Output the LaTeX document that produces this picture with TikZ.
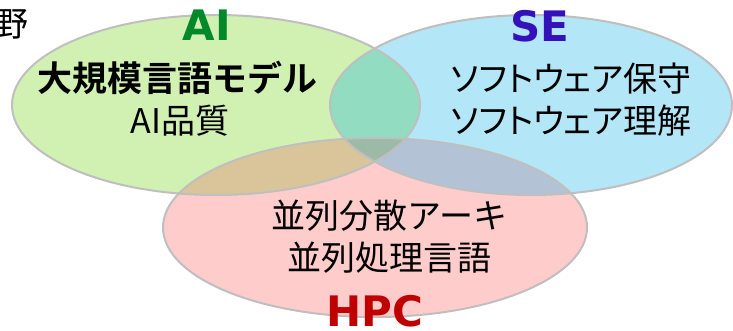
\documentclass[tikz,border=0pt]{standalone}
\usepackage{fontspec}
\newfontfamily\jp{Noto Sans CJK JP}
\newfontfamily\jpb{Noto Sans CJK JP Bold}
\newfontfamily\jpk[RawFeature=+palt]{Noto Sans CJK JP}
\newfontfamily\lat{DejaVu Sans Bold}
\definecolor{gcol}{RGB}{209,241,179}
\definecolor{bcol}{RGB}{179,230,247}
\definecolor{pcol}{RGB}{255,204,204}
\definecolor{gbcol}{RGB}{146,220,194}
\definecolor{gpcol}{RGB}{218,197,155}
\definecolor{bpcol}{RGB}{179,195,213}
\definecolor{gbpcol}{RGB}{157,185,167}
\definecolor{outc}{RGB}{191,191,191}
\definecolor{aicol}{RGB}{0,136,42}
\definecolor{secol}{RGB}{51,17,187}
\definecolor{hpccol}{RGB}{192,0,0}
\tikzset{
  outl/.style={draw=outc, line width=2pt},
  jtext/.style={inner sep=0pt, anchor=center, font=\jp\fontsize{34}{40}\selectfont},
  ktext/.style={inner sep=0pt, anchor=center, font=\jpk\fontsize{34}{40}\selectfont},
  btext/.style={inner sep=0pt, anchor=center, font=\jpb\fontsize{35}{40}\selectfont},
  ttl/.style={inner sep=0pt, anchor=center, font=\lat\fontsize{42}{48}\selectfont},
}
\begin{document}
\begin{tikzpicture}[x=1pt,y=-1pt]
\useasboundingbox (0,0) rectangle (733,331);
% base fills
\fill[gcol] (216,105) ellipse [x radius=204pt, y radius=90pt];
\fill[bcol] (531,105) ellipse [x radius=201pt, y radius=90pt];
\fill[pcol] (375,227.5) ellipse [x radius=212pt, y radius=89.5pt];
% overlaps
\begin{scope}
  \clip (216,105) ellipse [x radius=204pt, y radius=90pt];
  \fill[gbcol] (531,105) ellipse [x radius=201pt, y radius=90pt];
\end{scope}
\begin{scope}
  \clip (216,105) ellipse [x radius=204pt, y radius=90pt];
  \fill[gpcol] (375,227.5) ellipse [x radius=212pt, y radius=89.5pt];
\end{scope}
\begin{scope}
  \clip (531,105) ellipse [x radius=201pt, y radius=90pt];
  \fill[bpcol] (375,227.5) ellipse [x radius=212pt, y radius=89.5pt];
\end{scope}
\begin{scope}
  \clip (216,105) ellipse [x radius=204pt, y radius=90pt];
  \clip (531,105) ellipse [x radius=201pt, y radius=90pt];
  \fill[gbpcol] (375,227.5) ellipse [x radius=212pt, y radius=89.5pt];
\end{scope}
% outlines
\draw[outl] (216,105) ellipse [x radius=204pt, y radius=90pt];
\draw[outl] (531,105) ellipse [x radius=201pt, y radius=90pt];
\draw[outl] (375,227.5) ellipse [x radius=212pt, y radius=89.5pt];
% texts
\node[jtext, anchor=east] (ya) at (29,24) {野};
\node[ttl, text=aicol] (ai) at (207,25) {AI};
\node[ttl, text=secol] (se) at (540,26) {SE};
\node[ttl, text=hpccol] (hpc) at (375,311) {HPC};
\node[btext] (llm) at (177,78) {大規模言語モデル};
\node[jtext] (aiq) at (180,121) {AI品質};
\node[ktext] (sm) at (571,79) {ソフトウェア保守};
\node[ktext] (su) at (571,121) {ソフトウェア理解};
\node[jtext] (pa) at (389,216) {並列分散アーキ};
\node[jtext] (pl) at (389,258) {並列処理言語};
\end{tikzpicture}
\end{document}
